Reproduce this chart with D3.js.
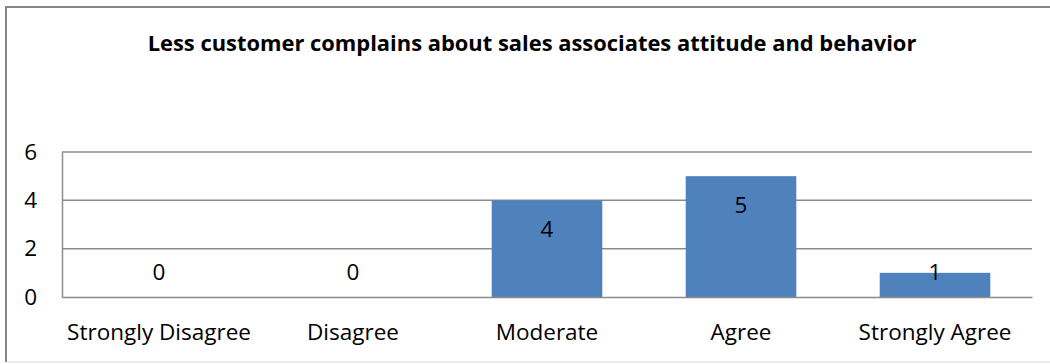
<!DOCTYPE html>
<html>
<head>
<meta charset="utf-8">
<script src="https://cdn.jsdelivr.net/npm/d3@7"></script>
<style>
  html, body { margin: 0; padding: 0; background: #fff; }
  svg { display: block; }
  text { font-family: "Open Sans", "Noto Sans", sans-serif; fill: #000; }
</style>
</head>
<body>
<svg id="chart" width="1050" height="364"></svg>
<script>
// Survey responses
const categories = ["Strongly Disagree", "Disagree", "Moderate", "Agree", "Strongly Agree"];
const counts = [0, 0, 4, 5, 1];
const yTicks = [0, 2, 4, 6];
const title = "Less customer complains about sales associates attitude and behavior";

const svg = d3.select("#chart");
const W = 1050, H = 364;
const plot = { left: 62, right: 1032, top: 152, bottom: 297 };
const labelSize = "22.5px";

// outer frame: darker left/top edges, faint bottom edge
svg.append("line")
  .attr("x1", 6).attr("x2", 6).attr("y1", 6).attr("y2", H - 2)
  .attr("stroke", "#868686").attr("stroke-width", 2);
svg.append("line")
  .attr("x1", 5).attr("x2", W).attr("y1", 7).attr("y2", 7)
  .attr("stroke", "#868686").attr("stroke-width", 2);
svg.append("line")
  .attr("x1", 7).attr("x2", W).attr("y1", H - 2).attr("y2", H - 2)
  .attr("stroke", "#e2e2e2").attr("stroke-width", 1.5);

svg.append("text")
  .attr("x", 532).attr("y", 51)
  .attr("text-anchor", "middle")
  .attr("font-weight", "bold")
  .style("font-size", "21.9px")
  .text(title);

const x = d3.scaleBand()
  .domain(categories)
  .range([plot.left, plot.right])
  .paddingInner(0.43)
  .paddingOuter(0.215);

const y = d3.scaleLinear()
  .domain([0, 6])
  .range([plot.bottom, plot.top]);

// horizontal gridlines
svg.append("g")
  .selectAll("line")
  .data(yTicks.filter(d => d > 0))
  .join("line")
  .attr("x1", plot.left).attr("x2", plot.right)
  .attr("y1", d => y(d)).attr("y2", d => y(d))
  .attr("stroke", "#8c8c8c").attr("stroke-width", 1.5);

// y axis
const yAxis = svg.append("g")
  .attr("transform", `translate(${plot.left},0)`)
  .call(d3.axisLeft(y).tickValues(yTicks).tickFormat(d3.format("d")).tickSize(0).tickPadding(25));
yAxis.select(".domain").attr("stroke", "#8c8c8c").attr("stroke-width", 1.5);
yAxis.selectAll("text").style("font-size", labelSize).attr("fill", "#000");

// bars
svg.append("g")
  .selectAll("rect")
  .data(counts)
  .join("rect")
  .attr("x", (d, i) => x(categories[i]))
  .attr("width", x.bandwidth())
  .attr("y", d => y(d))
  .attr("height", d => y(0) - y(d))
  .attr("fill", "#4f81bd");

// x axis
const xAxis = svg.append("g")
  .attr("transform", `translate(0,${plot.bottom})`)
  .call(d3.axisBottom(x).tickSize(0).tickPadding(0));
xAxis.select(".domain").attr("stroke", "#8c8c8c").attr("stroke-width", 1.5);
xAxis.selectAll("text")
  .attr("dy", null)
  .attr("y", 43)
  .style("font-size", labelSize)
  .attr("fill", "#000");

// value labels
svg.append("g")
  .selectAll("text")
  .data(counts)
  .join("text")
  .attr("x", (d, i) => x(categories[i]) + x.bandwidth() / 2)
  .attr("y", d => Math.min(y(d) + 29, y(0) - 25))
  .attr("dy", "0.35em")
  .attr("text-anchor", "middle")
  .style("font-size", labelSize)
  .text(d => d);
</script>
</body>
</html>
